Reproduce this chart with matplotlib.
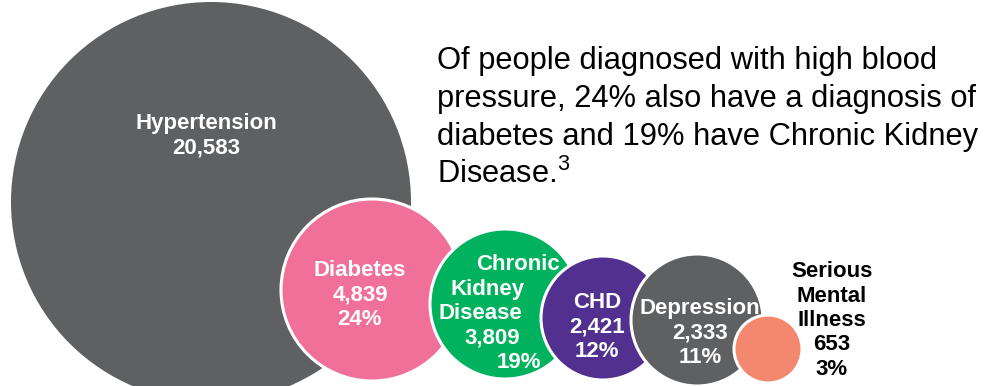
import matplotlib.pyplot as plt
from matplotlib.patches import Circle

plt.rcParams['font.family'] = ['Liberation Sans', 'DejaVu Sans']
plt.rcParams['mathtext.fontset'] = 'custom'
plt.rcParams['mathtext.rm'] = 'Liberation Sans'

# data
conditions = ["Hypertension", "Diabetes", "Chronic\nKidney\nDisease", "CHD", "Depression", "Serious\nMental\nIllness"]
counts = [20583, 4839, 3809, 2421, 2333, 653]
shares = [None, 24, 19, 12, 11, 3]

note_lines = [
    "Of people diagnosed with high blood",
    "pressure, 24% also have a diagnosis of",
    "diabetes and 19% have Chronic Kidney",
    "Disease.$^{3}$",
]

# layout (pixel space)
centers = [(211, 202), (372, 290), (505, 304), (603, 318), (697, 320), (768, 349)]
radii = [200, 91, 75, 62, 66, 34]
colors = ["#5f6062", "#f07099", "#00b15d", "#52308f", "#5f6062", "#f4886e"]
edges = ["none", "white", "white", "white", "white", "white"]
text_colors = ["white", "white", "white", "white", "white", "black"]
# label line anchors (x, first-line y); green label is ragged, one x per line
label_pos = [(206, 121), (360, 268), (None, 262), (597, 300), (700, 306), (832, 269)]
kidney_x = [518, 488, 480, 492, 519]
line_gap = 24.5

fig = plt.figure(figsize=(9.95, 3.86), dpi=100)
ax = fig.add_axes([0, 0, 1, 1])
ax.set_xlim(0, 995)
ax.set_ylim(386, 0)
ax.set_aspect('equal')
ax.axis('off')

for i, (c, r) in enumerate(zip(centers, radii)):
    ax.add_patch(Circle(c, r, facecolor=colors[i], edgecolor=edges[i],
                        linewidth=2.2, zorder=2 + i))

for i, name in enumerate(conditions):
    lines = name.split("\n") + [f"{counts[i]:,}"]
    if shares[i] is not None:
        lines.append(f"{shares[i]}%")
    x0, y0 = label_pos[i]
    for j, line in enumerate(lines):
        x = kidney_x[j] if x0 is None else x0
        ax.text(x, y0 + j * line_gap + 8, line, color=text_colors[i],
                fontsize=16, fontweight='bold', ha='center', va='baseline',
                zorder=20)

for k, line in enumerate(note_lines):
    ax.text(437, 69 + k * 38, line, fontsize=22.2, color='black',
            ha='left', va='baseline', zorder=20)

fig.savefig("out.png", dpi=100)
